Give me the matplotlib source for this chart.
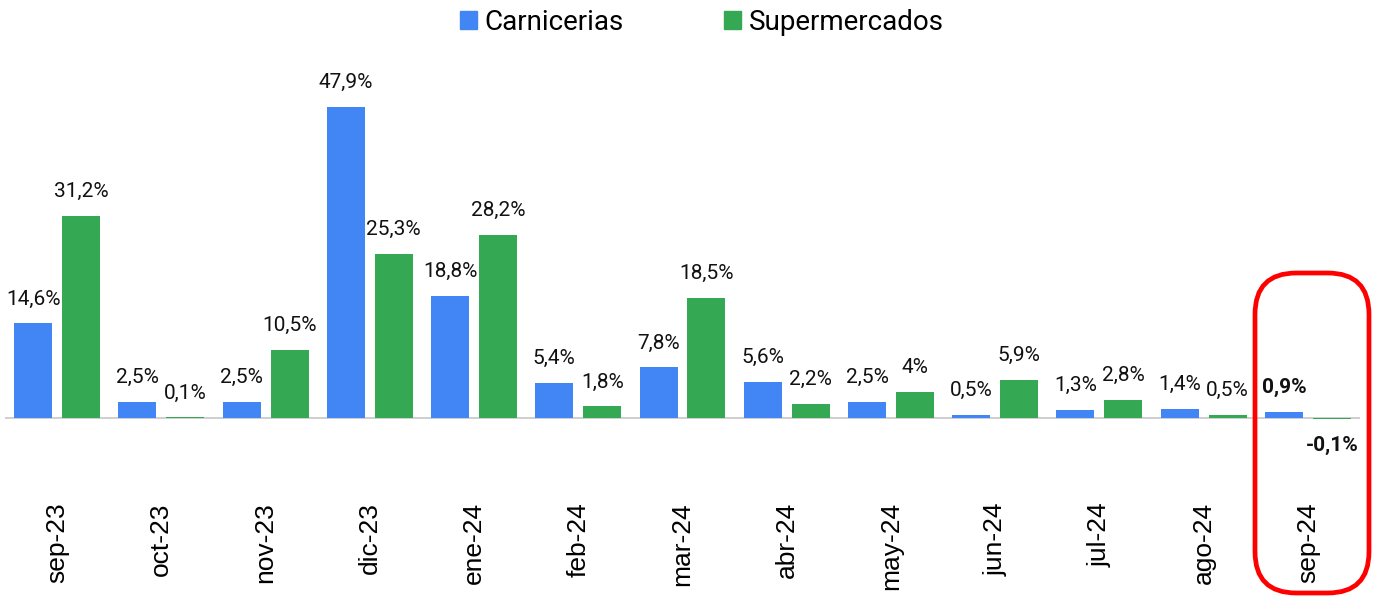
import matplotlib
matplotlib.use("Agg")
import matplotlib.pyplot as plt
from matplotlib.patches import FancyBboxPatch, Patch
import numpy as np

categories = ["sep-23", "oct-23", "nov-23", "dic-23", "ene-24", "feb-24", "mar-24",
              "abr-24", "may-24", "jun-24", "jul-24", "ago-24", "sep-24"]
carnicerias = [14.6, 2.5, 2.5, 47.9, 18.8, 5.4, 7.8, 5.6, 2.5, 0.5, 1.3, 1.4, 0.9]
supermercados = [31.2, 0.1, 10.5, 25.3, 28.2, 1.8, 18.5, 2.2, 4.0, 5.9, 2.8, 0.5, -0.1]

BLUE = "#4285F4"
GREEN = "#34A853"

def fmt(v):
    if abs(v - round(v)) < 1e-9:
        return f"{int(round(v))}%"
    return f"{v:.1f}%".replace(".", ",")

W, H = 1378, 596
fig = plt.figure(figsize=(W / 100, H / 100), dpi=100)
# axes in pixel coords: left 5, right 1360, top 60, bottom 480
ax = fig.add_axes([5 / W, 1 - 480 / H, (1360 - 5) / W, (480 - 60) / H])

x = np.arange(len(categories))
bw = 0.365
off = 0.23
ax.bar(x - off, carnicerias, bw, color=BLUE, zorder=2)
ax.bar(x + off, supermercados, bw, color=GREEN, zorder=2)

ax.set_xlim(-0.5, 12.5)
ylo = -(480 - 418) / 6.49
yhi = (418 - 60) / 6.49
ax.set_ylim(ylo, yhi)
ax.axhline(0, color="#cccccc", lw=1.3, zorder=1)

last = len(categories) - 1
for i, (c, s) in enumerate(zip(carnicerias, supermercados)):
    bold = (i == last)
    for xv, v in ((i - off, c), (i + off, s)):
        dy = 17.5 if v >= 0 else -19
        ax.annotate(fmt(v), (xv, v), xytext=(0, dy),
                    textcoords="offset points", ha="center", va="center",
                    fontsize=15, family="Roboto",
                    fontweight="bold" if bold else "normal", color="#111111")

ax.set_xticks(x)
ax.set_xticklabels(categories, rotation=90, fontsize=19, family="Liberation Sans",
                   va="top", ha="center")
ax.tick_params(axis="x", length=0, pad=16)
ax.set_yticks([])
for sp in ax.spines.values():
    sp.set_visible(False)

handles = [Patch(color=BLUE, label="Carnicerias"), Patch(color=GREEN, label="Supermercados")]
fig.legend(handles=handles, loc="center", bbox_to_anchor=(702 / W, 1 - 22 / H), ncol=2,
           frameon=False, prop={"family": "Roboto", "size": 20},
           handlelength=0.6, handleheight=0.6, handletextpad=0.3, columnspacing=3.6)

# red highlight box around last category
x0, x1, y0, y1 = 1255, 1369, 273, 593
box = FancyBboxPatch((x0 / W, 1 - y1 / H), (x1 - x0) / W, (y1 - y0) / H,
                     boxstyle="round,pad=0,rounding_size=0.03",
                     transform=fig.transFigure, fill=False, edgecolor="#FF0000",
                     linewidth=3.4, mutation_aspect=W / H, zorder=5)
fig.patches.append(box)

fig.savefig("out.png", dpi=100)
